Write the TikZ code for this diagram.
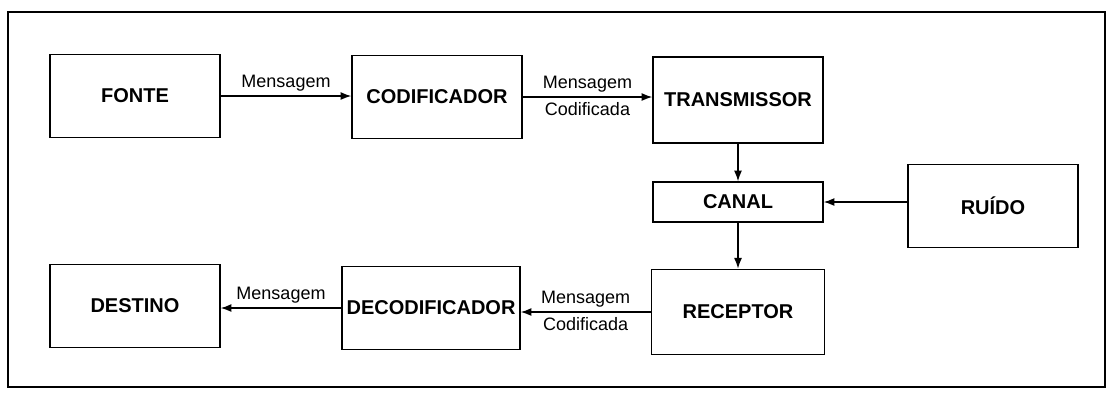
\documentclass[tikz,border=0pt]{standalone}
\usepackage{fontspec}
\setmainfont{Liberation Sans}
\usetikzlibrary{arrows.meta, positioning}

\tikzset{
  block/.style={draw, line width=1.2pt, minimum width=127.5pt, minimum height=62pt,
    inner sep=0pt, font=\bfseries\fontsize{15}{17}\selectfont},
  flow/.style={-{Latex[length=8pt, width=6pt]}, line width=0.9pt},
  msg/.style={font=\fontsize{13.5}{15}\selectfont, inner sep=3.5pt}
}

\begin{document}
\begin{tikzpicture}[x=0.75pt, y=-0.75pt, >=Latex]
  \useasboundingbox (0,0) rectangle (1113,394);
  % Frame
  \draw[line width=1.4pt] (8,12) rectangle (1105,387);
  % Top row
  \node[block] (fonte) at (135,96) {FONTE};
  \node[block] (codif) at (437,97) {CODIFICADOR};
  \node[block, minimum height=64.5pt] (transm) at (738,100) {TRANSMISSOR};
  % Channel and noise
  \node[block, minimum height=30pt] (canal) at (738,202) {CANAL};
  \node[block] (ruido) at (993,206) {RUÍDO};
  % Bottom row
  \node[block, minimum width=130pt, minimum height=64pt] (recep) at (738,312) {RECEPTOR};
  \node[block, minimum width=133.5pt] (decod) at (431,308) {DECODIFICADOR};
  \node[block] (destino) at (135,306) {DESTINO};
  % Connectors
  \draw[flow] (fonte.east) -- (fonte.east -| codif.west)
    node[msg, above, midway] {Mensagem};
  \draw[flow] (codif.east) -- (codif.east -| transm.west)
    node[msg, above, midway] {Mensagem}
    node[msg, below, midway] {Codificada};
  \draw[flow] (transm.south) -- (canal.north);
  \draw[flow] (canal.east -| ruido.west) -- (canal.east);
  \draw[flow] (canal.south) -- (recep.south |- recep.north);
  \draw[flow] (recep.west) -- (recep.west -| decod.east)
    node[msg, above, midway] {Mensagem}
    node[msg, below, midway] {Codificada};
  \draw[flow] (decod.west) -- (decod.west -| destino.east)
    node[msg, above, midway] {Mensagem};
\end{tikzpicture}
\end{document}
